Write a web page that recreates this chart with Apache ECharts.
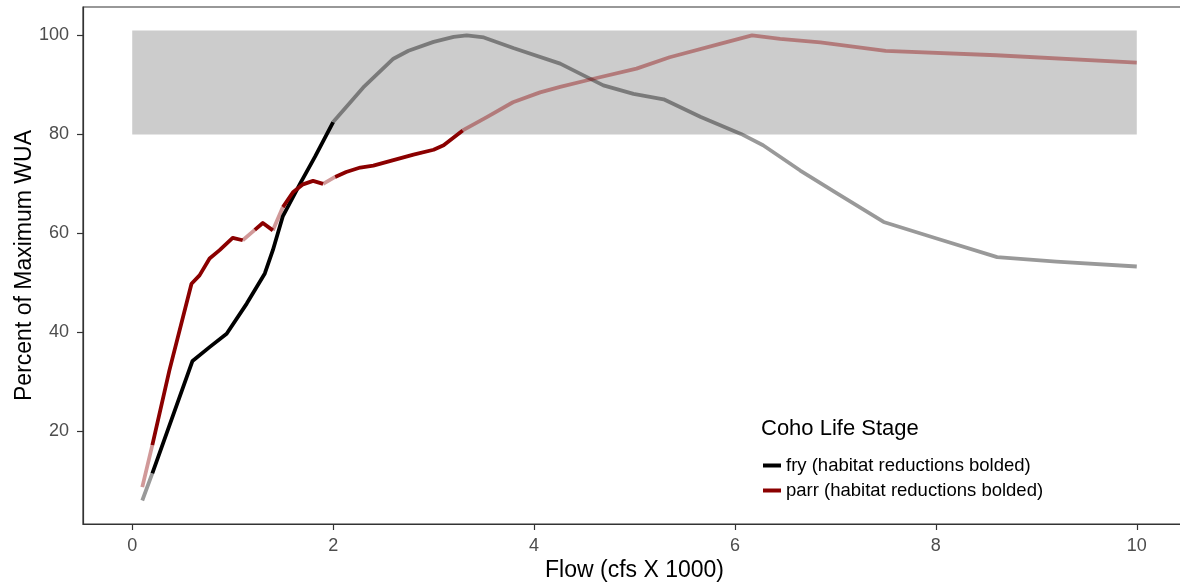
<!DOCTYPE html>
<html>
<head>
<meta charset="utf-8">
<script src="https://cdn.jsdelivr.net/npm/echarts@6/dist/echarts.min.js"></script>
<style>
  html, body { margin: 0; padding: 0; background: #fff; }
  #main { width: 1180px; height: 583px; }
</style>
</head>
<body>
<div id="main"></div>
<script>
// flow (cfs x 1000) and % of max WUA
var fryFlow = [0.1, 0.2, 0.6, 0.77, 0.94, 1.14, 1.32, 1.4, 1.5, 1.67, 1.82, 2.0, 2.3, 2.6, 2.75, 3.0, 3.2, 3.33, 3.5, 3.8, 4.26, 4.69, 4.99, 5.29, 5.66, 6.06, 6.28, 6.65, 7.0, 7.48, 8.0, 8.61, 9.2, 10];
var fryWUA  = [6.0, 11.5, 34.2, 37.0, 39.7, 45.8, 51.9, 56.6, 63.5, 70.0, 75.5, 82.5, 89.5, 95.3, 96.9, 98.7, 99.7, 100.0, 99.6, 97.4, 94.3, 89.9, 88.2, 87.1, 83.5, 80.1, 77.8, 72.7, 68.3, 62.3, 59.0, 55.2, 54.3, 53.3];
// 1 = segment from this point to the next is a habitat reduction (bolded)
var fryBold = [0, 1, 1, 1, 1, 1, 1, 1, 1, 1, 1, 0, 0, 0, 0, 0, 0, 0, 0, 0, 0, 0, 0, 0, 0, 0, 0, 0, 0, 0, 0, 0, 0, 0];

var parrFlow = [0.1, 0.2, 0.37, 0.59, 0.67, 0.77, 0.87, 1.0, 1.1, 1.22, 1.3, 1.4, 1.5, 1.6, 1.7, 1.8, 1.9, 2.02, 2.13, 2.27, 2.4, 2.6, 2.8, 3.0, 3.1, 3.29, 3.53, 3.79, 4.06, 4.26, 4.56, 5.02, 5.35, 5.85, 6.17, 6.45, 6.85, 7.5, 8.6, 10];
var parrWUA  = [8.7, 17.2, 32.3, 49.8, 51.5, 54.9, 56.6, 59.1, 58.6, 60.7, 62.1, 60.6, 65.3, 68.3, 69.9, 70.6, 70.0, 71.4, 72.4, 73.3, 73.7, 74.8, 75.9, 76.9, 77.8, 80.8, 83.5, 86.5, 88.5, 89.6, 91.1, 93.3, 95.6, 98.3, 100.0, 99.3, 98.6, 96.9, 96.0, 94.5];
var parrBold = [0, 1, 1, 1, 1, 1, 1, 1, 0, 1, 1, 0, 1, 1, 1, 1, 0, 1, 1, 1, 1, 1, 1, 1, 1, 0, 0, 0, 0, 0, 0, 0, 0, 0, 0, 0, 0, 0, 0, 0];

// target band: 80-101 % over the modelled flows
var bandFlow = [0, 10];
var bandWUA = [80, 101];

var xTicks = [0, 2, 4, 6, 8, 10];
var yTicks = [20, 40, 60, 80, 100];

var fryName = 'fry (habitat reductions bolded)';
var parrName = 'parr (habitat reductions bolded)';

// split a curve into the bold part and the faint part (null breaks the line)
function splitCurve(flow, wua, bold, want) {
  var out = [];
  var last = -2;
  for (var i = 0; i < flow.length - 1; i++) {
    if (bold[i] !== want) continue;
    if (last !== i - 1) {
      if (out.length) out.push([flow[i], null]);
      out.push([flow[i], wua[i]]);
    }
    out.push([flow[i + 1], wua[i + 1]]);
    last = i;
  }
  return out;
}

function lineSeries(name, data, color, z) {
  return {
    name: name,
    type: 'line',
    data: data,
    showSymbol: false,
    connectNulls: false,
    z: z,
    itemStyle: { color: color },
    lineStyle: { color: color, width: 3.8, cap: 'butt', join: 'round' },
    emphasis: { disabled: true }
  };
}

var myChart = echarts.init(document.getElementById('main'));
var font = '"Liberation Sans", Arial, Helvetica, sans-serif';

var option = {
  animation: false,
  textStyle: { fontFamily: font },
  grid: {
    left: 83, top: 7, right: -6, bottom: 59,
    outerBoundsMode: 'none', containLabel: false,
    show: true, borderColor: '#333333', borderWidth: 1.2, backgroundColor: '#ffffff'
  },
  xAxis: {
    type: 'value', min: -0.49, max: 10.49,
    name: 'Flow (cfs X 1000)', nameLocation: 'middle', nameGap: 35, nameMoveOverlap: false,
    nameTextStyle: { fontSize: 23, color: '#000', fontFamily: font },
    axisLine: { show: true, onZero: false, lineStyle: { color: '#333333', width: 1.2 } },
    axisTick: { show: true, length: 6, customValues: xTicks, lineStyle: { color: '#333333', width: 1.2 } },
    axisLabel: { customValues: xTicks, fontSize: 18, color: '#4d4d4d', margin: 13, fontFamily: font },
    splitLine: { show: false }
  },
  yAxis: {
    type: 'value', min: 1.25, max: 105.75,
    name: 'Percent of Maximum WUA', nameLocation: 'middle', nameGap: 47, nameMoveOverlap: false,
    nameTextStyle: { fontSize: 23, color: '#000', fontFamily: font },
    axisLine: { show: true, onZero: false, lineStyle: { color: '#333333', width: 1.2 } },
    axisTick: { show: true, length: 6, customValues: yTicks, lineStyle: { color: '#333333', width: 1.2 } },
    axisLabel: { customValues: yTicks, fontSize: 18, color: '#4d4d4d', margin: 14, fontFamily: font },
    splitLine: { show: false }
  },
  legend: {
    orient: 'vertical',
    left: 758, top: 451,
    itemWidth: 18, itemHeight: 4, itemGap: 6,
    icon: 'rect',
    data: [fryName, parrName],
    textStyle: { fontSize: 18.5, lineHeight: 19, color: '#000', fontFamily: font, padding: [0, 0, 0, 0] },
    selectedMode: false
  },
  graphic: [{
    type: 'text', left: 761, top: 418,
    style: { text: 'Coho Life Stage', font: '22px ' + font, fill: '#000' }
  }],
  series: [
    {
      name: 'band', type: 'line', data: [], z: 1, silent: true,
      markArea: {
        silent: true,
        itemStyle: { color: '#cccccc' },
        data: [[{ xAxis: bandFlow[0], yAxis: bandWUA[0] }, { xAxis: bandFlow[1], yAxis: bandWUA[1] }]]
      }
    },
    lineSeries('fry faint', splitCurve(fryFlow, fryWUA, fryBold, 0), 'rgba(0,0,0,0.4)', 3),
    lineSeries('parr faint', splitCurve(parrFlow, parrWUA, parrBold, 0), 'rgba(139,0,0,0.4)', 3),
    lineSeries(fryName, splitCurve(fryFlow, fryWUA, fryBold, 1), '#000000', 4),
    lineSeries(parrName, splitCurve(parrFlow, parrWUA, parrBold, 1), '#8b0000', 4)
  ]
};

myChart.setOption(option);
</script>
</body>
</html>
